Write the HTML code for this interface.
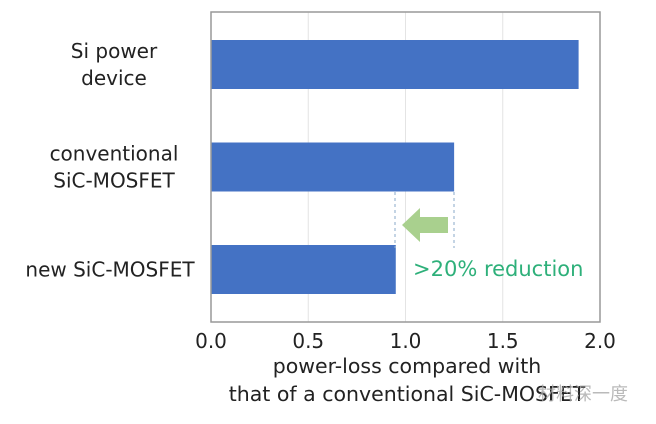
<!DOCTYPE html>
<html><head><meta charset="utf-8"><style>
body{margin:0;background:#fff;width:656px;height:420px;overflow:hidden;font-family:"DejaVu Sans","Noto Sans CJK SC",sans-serif}
svg text{font-family:"DejaVu Sans","Noto Sans CJK SC",sans-serif}
</style></head><body>
<svg width="656" height="420">
<g id="grid"></g>
<g id="bars"></g>
<rect x="211" y="12" width="389" height="310" fill="none" stroke="#999" stroke-width="1.5"/>
<g id="cats"></g>
<g id="ticks"></g>
<line x1="395" y1="192" x2="395" y2="248" stroke="#8aa8c8" stroke-dasharray="3,3"/>
<line x1="454" y1="192" x2="454" y2="248" stroke="#8aa8c8" stroke-dasharray="3,3"/>
<polygon points="402,225 420,208 420,217 448,217 448,233 420,233 420,242" fill="#a9d08e"/>
<text x="413" y="276" font-size="21" fill="#2eb07a">&gt;20% reduction</text>
<text x="407" y="373" font-size="20.5" fill="#222" text-anchor="middle">power-loss compared with</text>
<text x="407" y="401" font-size="20.5" fill="#222" text-anchor="middle">that of a conventional SiC-MOSFET</text>
<text x="538" y="400" font-size="18" fill="#aaa" opacity="0.8">材料深一度</text>
</svg>
<script>
const categories=[["Si power","device"],["conventional","SiC-MOSFET"],["new SiC-MOSFET"]];
const values=[1.89,1.25,0.95];
const ticks=[0,0.5,1.0,1.5,2.0];
const tickLabels=["0.0","0.5","1.0","1.5","2.0"];
const NS="http://www.w3.org/2000/svg";
const x=v=>211+v*194.5;
const bandTop=i=>40+i*102.5;
const bh=49;
function mk(t,a,p){const e=document.createElementNS(NS,t);for(const k in a)e.setAttribute(k,a[k]);p.appendChild(e);return e;}
const g=document.getElementById('grid'),b=document.getElementById('bars'),c=document.getElementById('cats'),tk=document.getElementById('ticks');
ticks.forEach((t,i)=>{
 if(t>0&&t<2){const l=mk('line',{x1:x(t),x2:x(t),y1:12,y2:322,stroke:'#e4e4e4'},g);
 
 }
 const tx=mk('text',{x:x(t),y:348,'font-size':20,fill:'#222','text-anchor':'middle'},tk);tx.textContent=tickLabels[i];
 
 
});
values.forEach((v,i)=>{
 const r=mk('rect',{x:211,y:bandTop(i),width:x(v)-211,height:bh,fill:'#4472c4'},b);
 
 
 const lines=categories[i];
 const cy=bandTop(i)+bh/2;
 lines.forEach((s,j)=>{
  const y=cy+7+(j-(lines.length-1)/2)*27;
  const cx=lines.length>1?114:110;
  const t=mk('text',{x:cx,y:y,'font-size':20,fill:'#222','text-anchor':'middle'},c);t.textContent=s;
  
  
 });
});
</script>
</body></html>
